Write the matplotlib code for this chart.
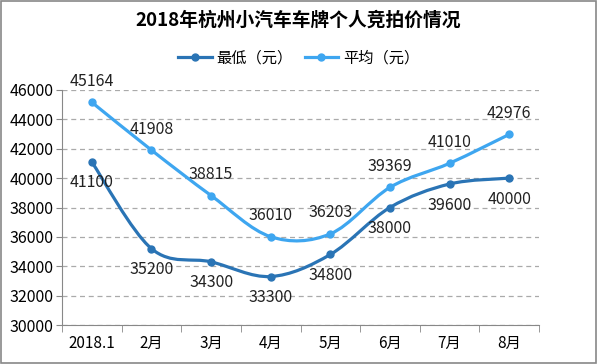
import numpy as np
import matplotlib
matplotlib.use('Agg')
from matplotlib import pyplot as plt
from matplotlib.path import Path
from matplotlib.patches import PathPatch

plt.rcParams['font.family'] = ['Noto Sans CJK SC', 'DejaVu Sans']

months = ['2018.1', '2月', '3月', '4月', '5月', '6月', '7月', '8月']
lowest = [41100, 35200, 34300, 33300, 34800, 38000, 39600, 40000]
average = [45164, 41908, 38815, 36010, 36203, 39369, 41010, 42976]
yticks = list(range(30000, 46001, 2000))

LOW_COLOR = '#2a74b5'
AVG_COLOR = '#3ea6f0'


def smooth_path(xs, ys):
    # excel-like smoothed line: cubic bezier through the points
    pts = np.column_stack([xs, ys]).astype(float)
    n = len(pts)
    verts = [pts[0]]
    codes = [Path.MOVETO]
    for i in range(n - 1):
        p0 = pts[i - 1] if i > 0 else pts[i]
        p1 = pts[i]
        p2 = pts[i + 1]
        p3 = pts[i + 2] if i + 2 < n else pts[i + 1]
        c1 = p1 + (p2 - p0) / 6.0
        c2 = p2 - (p3 - p1) / 6.0
        verts += [c1, c2, p2]
        codes += [Path.CURVE4] * 3
    return Path(verts, codes)


fig = plt.figure(figsize=(5.97, 3.64), dpi=100)
ax = fig.add_axes([62 / 597, 39 / 364, 477 / 597, 235 / 364])

x = np.arange(len(months))
for ys, color, label, off, va in [(lowest, LOW_COLOR, '最低（元）', -9, 'top'),
                                  (average, AVG_COLOR, '平均（元）', 9, 'bottom')]:
    ax.add_patch(PathPatch(smooth_path(x, ys), facecolor='none', edgecolor=color, lw=2.3, zorder=3))
    ax.plot(x, ys, 'o', color=color, ms=5, zorder=4)
    ax.plot([], [], '-o', color=color, lw=2.3, ms=5, label=label)
    for xi, yi in zip(x, ys):
        ax.annotate(str(yi), (xi, yi), xytext=(0, off), textcoords='offset points',
                    ha='center', va=va, fontsize=11.5, color='#222222')

ax.set_xlim(-0.5, len(months) - 0.5)
ax.set_ylim(30000, 46000)
ax.set_yticks(yticks)
ax.set_yticklabels([str(t) for t in yticks], fontsize=11.5)
ax.set_xticks(x)
ax.set_xticklabels(months, fontsize=11)
ax.set_xticks(np.arange(-0.5, len(months), 1), minor=True)
ax.tick_params(axis='x', which='major', length=0, pad=7)
ax.tick_params(axis='x', which='minor', length=5, color='#888888', direction='out')
ax.tick_params(axis='y', length=4, color='#888888', direction='out', pad=2)
ax.yaxis.grid(True, ls=(0, (4, 3)), color='#aaaaaa', lw=0.9)
ax.set_axisbelow(True)
for side in ['top', 'right']:
    ax.spines[side].set_visible(False)
for side in ['left', 'bottom']:
    ax.spines[side].set_color('#888888')

fig.text(0.5, 1 - 20 / 364, '2018年杭州小汽车车牌个人竞拍价情况', ha='center', va='center',
         fontsize=13.5, fontweight='bold')
fig.legend(loc='center', bbox_to_anchor=(0.5, 1 - 58 / 364), ncol=2, frameon=False,
           fontsize=11, handlelength=2.2, columnspacing=0.8, handletextpad=0.3)

fig.patches.append(plt.Rectangle((0.001, 0.002), 0.997, 0.995, transform=fig.transFigure,
                                 fill=False, edgecolor='#888888', lw=1.2))
fig.savefig('out.png', dpi=100)
